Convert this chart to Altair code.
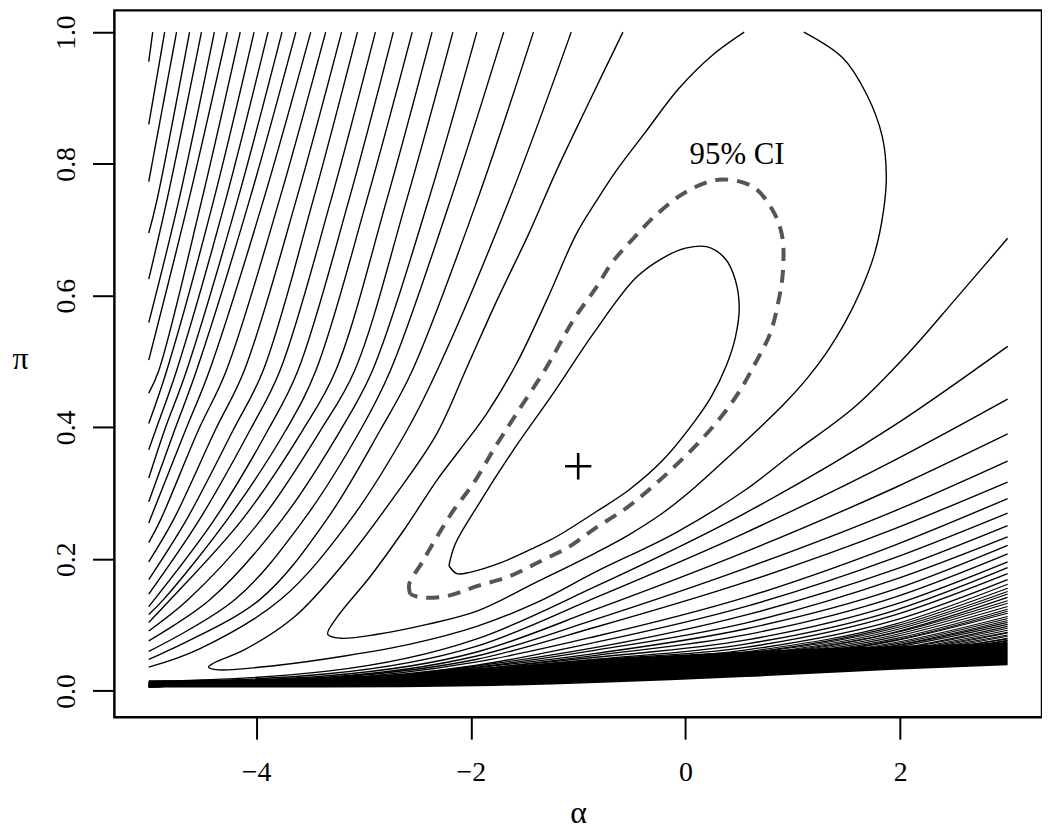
import altair as alt
import pandas as pd

# ---------------- data (alpha, pi) ----------------
# innermost closed contour
INNER_ALPHA = [-2.204, -2.148, -1.944, -1.602, -1.231, -0.861, -0.463, -0.213, 0.000, 0.204, 0.370, 0.463, 0.500,
               0.463, 0.380, 0.241, 0.093, -0.213, -0.528, -0.833, -1.204, -1.389, -1.713, -2.009, -2.130, -2.204]
INNER_PI = [0.190, 0.222, 0.279, 0.366, 0.452, 0.542, 0.627, 0.657, 0.672, 0.674, 0.656, 0.624, 0.582,
            0.536, 0.494, 0.447, 0.411, 0.350, 0.305, 0.272, 0.234, 0.219, 0.195, 0.180, 0.178, 0.190]

# dashed 95% CI contour
CI_ALPHA = [-2.565, -2.574, -2.454, -2.315, -2.157, -1.972, -1.778, -1.574, -1.296, -1.037, -0.833, -0.685,
            -0.491, -0.278, 0.000, 0.306, 0.620, 0.806, 0.898, 0.907, 0.861, 0.787, 0.648, 0.491, 0.306,
            0.093, -0.120, -0.343, -0.574, -0.833, -1.083, -1.361, -1.639, -1.944, -2.222, -2.472, -2.565]
CI_PI = [0.147, 0.162, 0.195, 0.234, 0.275, 0.316, 0.369, 0.421, 0.491, 0.565, 0.612, 0.650,
         0.686, 0.722, 0.757, 0.776, 0.766, 0.731, 0.692, 0.637, 0.588, 0.542, 0.497, 0.452, 0.411,
         0.372, 0.338, 0.305, 0.275, 0.248, 0.219, 0.196, 0.174, 0.159, 0.144, 0.142, 0.147]

# U-shaped contour open at the top
C3_ALPHA = [0.546, 0.250, -0.065, -0.370, -0.648, -0.833, -1.019, -1.296, -1.574, -1.852, -2.102, -2.315,
            -2.620, -2.935, -3.241, -3.333, -3.213, -2.870, -2.407, -1.944, -1.389, -0.833, -0.528, -0.213,
            0.093, 0.398, 0.713, 0.926, 1.130, 1.315, 1.478, 1.630, 1.759, 1.843, 1.870, 1.833, 1.685,
            1.463, 1.102]
C3_PI = [1.0, 0.965, 0.914, 0.849, 0.789, 0.743, 0.693, 0.592, 0.497, 0.421, 0.366, 0.320,
         0.245, 0.174, 0.113, 0.086, 0.080, 0.086, 0.101, 0.121, 0.165, 0.210, 0.237, 0.270,
         0.310, 0.355, 0.403, 0.437, 0.474, 0.514, 0.557, 0.607, 0.663, 0.728, 0.781, 0.841, 0.906,
         0.961, 1.0]

# hooked contour: top edge -> tip near alpha=-4.4 -> right edge
C4_ALPHA = [-0.583, -0.898, -1.204, -1.463, -1.759, -2.037, -2.315, -2.713, -3.176, -3.639, -4.102, -4.398,
            -4.444, -4.352, -3.796, -3.176, -2.565, -1.944, -1.389, -0.833, -0.093, 0.556, 1.019, 1.574,
            2.083, 2.500, 3.0]
C4_PI = [1.0, 0.894, 0.789, 0.693, 0.592, 0.491, 0.391, 0.295, 0.195, 0.113, 0.063, 0.042,
         0.036, 0.032, 0.039, 0.053, 0.071, 0.098, 0.134, 0.181, 0.240, 0.305, 0.363, 0.431,
         0.514, 0.592, 0.687]

# upper-left family: alpha where each line crosses given pi levels, then pi where it leaves alpha=-5
UL_AT_PI_100 = [-1.065, -1.417, -1.694, -1.944, -2.167, -2.361, -2.546, -2.722, -2.889, -3.056, -3.204, -3.352,
                -3.491, -3.630, -3.759, -3.889, -4.019, -4.148, -4.269, -4.389, -4.509, -4.620, -4.741, -4.852,
                -4.963]
UL_AT_PI_074 = [-1.648, -1.944, -2.194, -2.398, -2.602, -2.787, -2.972, -3.139, -3.306, -3.472, -3.630, -3.787,
                -3.935, -4.065, -4.176, -4.287, -4.398, -4.509, -4.630, -4.722, -4.833, -4.926]
UL_AT_PI_049 = [-2.315, -2.546, -2.750, -2.917, -3.083, -3.259, -3.444, -3.611, -3.778, -3.935, -4.111, -4.278,
                -4.435, -4.556, -4.648, -4.741, -4.833, -4.907]
UL_AT_PI_040 = [-2.593, -2.843, -3.028, -3.213, -3.398, -3.565, -3.722, -3.889, -4.056, -4.213, -4.380, -4.537,
                -4.657, -4.759, -4.852, -4.935]
UL_AT_PI_026 = [-3.120, -3.343, -3.556, -3.759, -3.954, -4.130, -4.269, -4.389, -4.528, -4.648, -4.769, -4.889]
UL_AT_PI_014 = [-3.769, -3.963, -4.194, -4.426, -4.630, -4.796, -4.861]
UL_AT_PI_006 = [-4.537, -4.796]
UL_EXIT_PI = [0.036, 0.048, 0.060, 0.076, 0.091, 0.104, 0.116, 0.128, 0.147, 0.169, 0.196, 0.225,
              0.255, 0.287, 0.323, 0.366, 0.406, 0.452, 0.502, 0.559, 0.625, 0.695, 0.773, 0.860, 0.955]
UL_LEVELS = [(0.743, UL_AT_PI_074), (0.486, UL_AT_PI_049), (0.396, UL_AT_PI_040),
             (0.260, UL_AT_PI_026), (0.139, UL_AT_PI_014), (0.063, UL_AT_PI_006)]

# lower family: pi where each line crosses given alpha levels
LL_ALPHAS = [-5.0, -3.333, -1.944, -0.833, 0.556, 1.944, 3.0]
LL_AT_M500 = [0.014, 0.013, 0.012, 0.012, 0.011, 0.011, 0.010, 0.010, 0.009, 0.009, 0.009, 0.008, 0.008, 0.008, 0.008]
LL_AT_M333 = [0.030, 0.026, 0.023, 0.021, 0.020, 0.018, 0.017, 0.015, 0.015, 0.014, 0.014, 0.014, 0.012, 0.012, 0.012]
LL_AT_M194 = [0.079, 0.068, 0.059, 0.053, 0.048, 0.044, 0.039, 0.038, 0.036, 0.035, 0.033, 0.033, 0.032, 0.032, 0.030]
LL_AT_M083 = [0.159, 0.142, 0.124, 0.109, 0.097, 0.083, 0.074, 0.066, 0.062, 0.057, 0.054, 0.051, 0.048, 0.047, 0.045]
LL_AT_P056 = [0.270, 0.240, 0.211, 0.186, 0.165, 0.142, 0.128, 0.115, 0.103, 0.094, 0.085, 0.077, 0.071, 0.066, 0.062]
LL_AT_P194 = [0.403, 0.350, 0.308, 0.273, 0.246, 0.221, 0.202, 0.184, 0.169, 0.154, 0.142, 0.131, 0.122, 0.115, 0.107]
LL_AT_P300 = [0.523, 0.443, 0.390, 0.349, 0.317, 0.292, 0.270, 0.251, 0.234, 0.221, 0.208, 0.196, 0.187, 0.178, 0.169]

# dense lines just above the solid band
DN_ALPHAS = [-5.0, -1.944, 0.556, 1.944, 3.0]
DN_AT_M500 = [0.008, 0.008, 0.008, 0.008, 0.008, 0.008, 0.008, 0.008, 0.008, 0.008, 0.008, 0.008, 0.007, 0.007,
              0.007, 0.007, 0.007, 0.007, 0.007, 0.007, 0.007, 0.007, 0.006, 0.006, 0.006, 0.006, 0.006, 0.006]
DN_AT_M194 = [0.030, 0.030, 0.029, 0.029, 0.029, 0.028, 0.028, 0.027, 0.027, 0.027, 0.026, 0.026, 0.026, 0.025,
              0.025, 0.024, 0.024, 0.024, 0.023, 0.023, 0.023, 0.022, 0.022, 0.021, 0.021, 0.021, 0.020, 0.020]
DN_AT_P056 = [0.059, 0.057, 0.056, 0.054, 0.053, 0.051, 0.050, 0.048, 0.047, 0.047, 0.045, 0.044, 0.042, 0.042,
              0.041, 0.039, 0.039, 0.038, 0.036, 0.036, 0.035, 0.035, 0.033, 0.033, 0.032, 0.032, 0.030, 0.030]
DN_AT_P194 = [0.101, 0.098, 0.095, 0.092, 0.089, 0.088, 0.085, 0.082, 0.079, 0.077, 0.076, 0.073, 0.071, 0.069,
              0.068, 0.066, 0.063, 0.062, 0.060, 0.059, 0.057, 0.056, 0.054, 0.053, 0.053, 0.051, 0.050, 0.048]
DN_AT_P300 = [0.162, 0.156, 0.151, 0.147, 0.142, 0.137, 0.133, 0.128, 0.124, 0.121, 0.118, 0.113, 0.110, 0.107,
              0.104, 0.101, 0.098, 0.095, 0.092, 0.089, 0.088, 0.085, 0.083, 0.080, 0.079, 0.077, 0.076, 0.074]

# region where the lowest contours merge into solid black
BAND_ALPHA = [-5.0, -3.333, -1.944, -0.833, 0.556, 1.944, 3.0]
BAND_TOP = [0.016, 0.019, 0.032, 0.047, 0.060, 0.068, 0.073]
BAND_BOTTOM = [0.005, 0.005, 0.007, 0.012, 0.021, 0.032, 0.039]

MLE_ALPHA = [-1.0]
MLE_PI = [0.341]
LABEL_ALPHA = [0.48]
LABEL_PI = [0.814]
LABEL_TEXT = ["95% CI"]

# ---------------- assemble long tables ----------------
solid_rows, lower_rows, dense_rows, ci_rows = [], [], [], []


def add(rows, cid, alphas, pis):
    for i, (a, p) in enumerate(zip(alphas, pis)):
        rows.append({"curve": cid, "i": i, "alpha": a, "pi": p})


add(solid_rows, "inner", INNER_ALPHA, INNER_PI)
add(solid_rows, "c3", C3_ALPHA, C3_PI)
add(solid_rows, "c4", C4_ALPHA, C4_PI)
add(ci_rows, "ci", CI_ALPHA, CI_PI)

for k in range(len(UL_AT_PI_100)):
    al = [UL_AT_PI_100[k]]
    pl = [1.0]
    for lvl, arr in UL_LEVELS:
        if k < len(arr):
            al.append(arr[k])
            pl.append(lvl)
    al.append(-5.0)
    pl.append(UL_EXIT_PI[k])
    add(solid_rows, f"ul{k}", al, pl)

ll_cols = [LL_AT_M500, LL_AT_M333, LL_AT_M194, LL_AT_M083, LL_AT_P056, LL_AT_P194, LL_AT_P300]
for k in range(len(LL_AT_P300)):
    add(lower_rows, f"ll{k}", LL_ALPHAS, [c[k] for c in ll_cols])

dn_cols = [DN_AT_M500, DN_AT_M194, DN_AT_P056, DN_AT_P194, DN_AT_P300]
for k in range(len(DN_AT_P300)):
    add(dense_rows, f"dn{k}", DN_ALPHAS, [c[k] for c in dn_cols])

solid_df = pd.DataFrame(solid_rows)
lower_df = pd.DataFrame(lower_rows)
dense_df = pd.DataFrame(dense_rows)
ci_df = pd.DataFrame(ci_rows)
band_df = pd.DataFrame({"alpha": BAND_ALPHA, "top": BAND_TOP, "bottom": BAND_BOTTOM})
mle_df = pd.DataFrame({"alpha": MLE_ALPHA, "pi": MLE_PI})
lab_df = pd.DataFrame({"alpha": LABEL_ALPHA, "pi": LABEL_PI, "text": LABEL_TEXT})

# ---------------- encodings ----------------
FONT = "Liberation Serif"
xscale = alt.Scale(domain=[-5.32, 3.32], nice=False, zero=False)
yscale = alt.Scale(domain=[-0.04, 1.033], nice=False, zero=False)
xaxis = alt.Axis(values=[-4, -2, 0, 2], title="α", labelPadding=20, titleY=96, titleBaseline="middle")
yaxis = alt.Axis(values=[0, 0.2, 0.4, 0.6, 0.8, 1.0], format=".1f", title="π", labelAngle=-90,
                 labelAlign="center", labelBaseline="bottom", labelPadding=12,
                 titleAngle=0, titleX=-95, titleY=350, titleAlign="center", titleBaseline="middle")


def X(field="alpha"):
    return alt.X(f"{field}:Q", scale=xscale, axis=xaxis)


def Y(field="pi"):
    return alt.Y(f"{field}:Q", scale=yscale, axis=yaxis)


band = alt.Chart(band_df).mark_area(color="black", interpolate="monotone").encode(
    x=X(), y=Y("top"), y2="bottom:Q")

dense = alt.Chart(dense_df).mark_line(color="black", strokeWidth=1.1, interpolate="monotone").encode(
    x=X(), y=Y(), detail="curve:N", order="i:Q")

lower = alt.Chart(lower_df).mark_line(color="black", strokeWidth=1.4, interpolate="monotone").encode(
    x=X(), y=Y(), detail="curve:N", order="i:Q")

solid = alt.Chart(solid_df).mark_line(color="black", strokeWidth=1.4, interpolate="catmull-rom").encode(
    x=X(), y=Y(), detail="curve:N", order="i:Q")

ci = alt.Chart(ci_df).mark_line(color="#555555", strokeWidth=4, strokeDash=[13, 9],
                                interpolate="catmull-rom").encode(
    x=X(), y=Y(), detail="curve:N", order="i:Q")

mle = alt.Chart(mle_df).mark_point(shape="M-1,0L1,0M0,-1L0,1", size=700, filled=False,
                                   color="black", strokeWidth=2.6, opacity=1).encode(x=X(), y=Y())

lab = alt.Chart(lab_df).mark_text(font=FONT, fontSize=31, align="center", baseline="middle",
                                  color="black").encode(x=X(), y=Y(), text="text:N")

chart = alt.layer(band, dense, lower, solid, ci, mle, lab).properties(
    width=933, height=711,
    autosize=alt.AutoSizeParams(type="none"),
    padding={"left": 107, "top": 0, "right": 0, "bottom": 110},
).configure_view(stroke="black", strokeWidth=2.5).configure_axis(
    domain=False, grid=False, ticks=True, tickColor="black", tickWidth=2, tickSize=22,
    labelFont=FONT, labelFontSize=28, labelColor="black", labelOverlap=False, labelFlush=False,
    titleFont=FONT, titleFontSize=32, titleColor="black", titleFontWeight="normal",
)

chart.save("out.html", embed_options={"renderer": "svg", "actions": False})
